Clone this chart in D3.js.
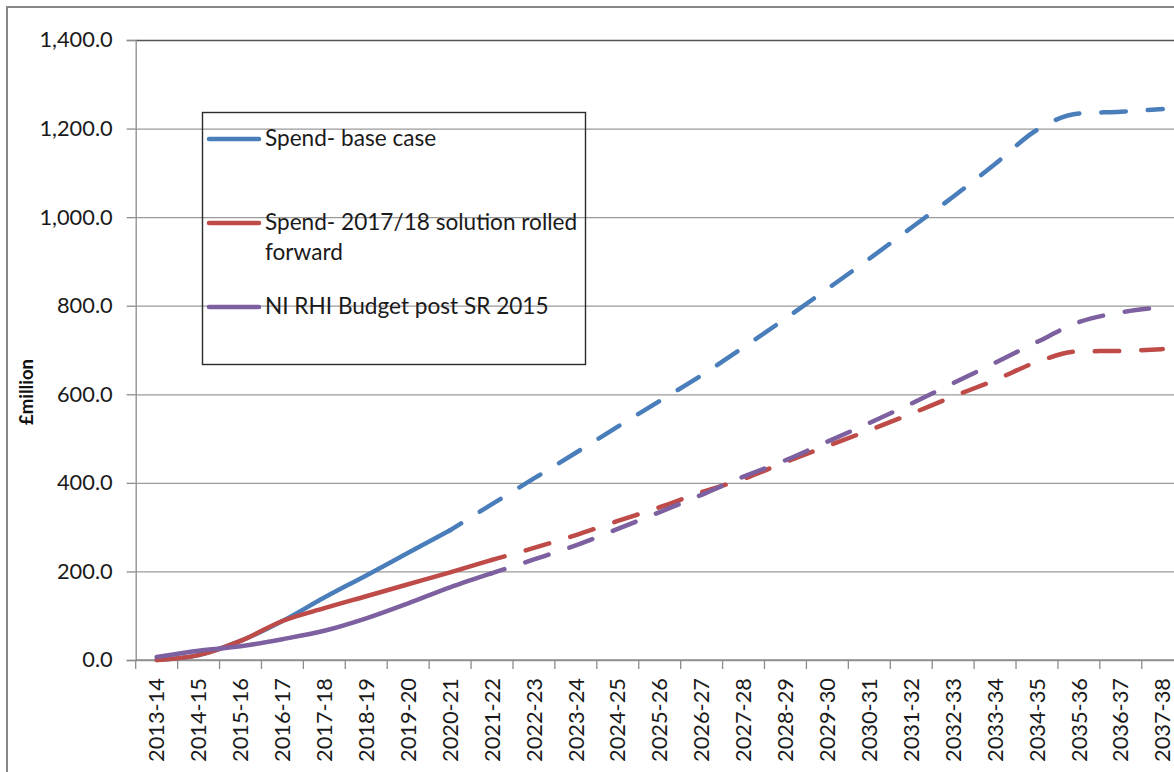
<!DOCTYPE html>
<html>
<head>
<meta charset="utf-8">
<script src="https://cdn.jsdelivr.net/npm/d3@7"></script>
<style>
  html, body { margin: 0; padding: 0; background: #fff; }
  svg { display: block; font-family: Lato, "Open Sans", sans-serif; }
</style>
</head>
<body>
<svg id="chart" width="1174" height="772"></svg>
<script>
// Financial years on the category axis
const categories = [
  "2013-14", "2014-15", "2015-16", "2016-17", "2017-18", "2018-19", "2019-20",
  "2020-21", "2021-22", "2022-23", "2023-24", "2024-25", "2025-26", "2026-27",
  "2027-28", "2028-29", "2029-30", "2030-31", "2031-32", "2032-33", "2033-34",
  "2034-35", "2035-36", "2036-37", "2037-38"
];

// Spend and budget, £ million
const spendBaseCase = [
  0, 11, 43, 88, 141, 191, 242, 293, 352, 410, 468, 527, 585, 643, 706,
  771, 838, 906, 976, 1046, 1120, 1197, 1234, 1238, 1244
];
const spendRolledForward = [
  0, 11, 43, 88, 117, 144, 171, 198, 226, 253, 282, 314, 345, 379, 409,
  447, 483, 519, 556, 595, 632, 673, 697, 698, 702
];
const budgetPostSR2015 = [
  7, 21, 31, 47, 66, 94, 128, 164, 196, 227, 259, 296, 334, 373, 414,
  451, 493, 535, 579, 625, 671, 718, 763, 785, 797
];

const seriesNames = [
  "Spend- base case",
  "Spend- 2017/18 solution rolled forward",
  "NI RHI Budget post SR 2015"
];
const legendLines = [
  ["Spend- base case"],
  ["Spend- 2017/18 solution rolled", "forward"],
  ["NI RHI Budget post SR 2015"]
];
// Index of the last firm year of each series; later years are drawn dashed
const solidUntil = [7, 8, 8];
const yTicks = [0, 200, 400, 600, 800, 1000, 1200, 1400];

const series = [
  { name: seriesNames[0], values: spendBaseCase, color: "#4A7EBB", solidUntil: solidUntil[0] },
  { name: seriesNames[1], values: spendRolledForward, color: "#BE4B48", solidUntil: solidUntil[1] },
  { name: seriesNames[2], values: budgetPostSR2015, color: "#7D60A0", solidUntil: solidUntil[2] }
];

const svg = d3.select("#chart");
const FONT = 21.8;
const LEGEND_FONT = 22.6;

// Chart area frame
svg.append("rect")
  .attr("x", 7).attr("y", 7)
  .attr("width", 1400).attr("height", 1000)
  .attr("fill", "none")
  .attr("stroke", "#878787")
  .attr("stroke-width", 2);

const plot = { left: 135.7, top: 40, bottom: 660, band: 41.92 };
plot.right = plot.left + plot.band * categories.length;

const x = d3.scaleBand()
  .domain(categories)
  .range([plot.left, plot.right])
  .paddingInner(0).paddingOuter(0);

const y = d3.scaleLinear()
  .domain([0, 1400])
  .range([plot.bottom, plot.top]);

// Horizontal gridlines
const grid = svg.append("g")
  .attr("transform", `translate(${plot.left},0)`)
  .call(d3.axisLeft(y).tickValues(yTicks).tickSize(-(plot.right - plot.left)).tickFormat(""));
grid.select(".domain").remove();
grid.selectAll(".tick line")
  .attr("stroke", (d) => d === 1400 ? "#555" : "#9a9a9a")
  .attr("stroke-width", 1.3);

// Y axis with labels
const yAxis = svg.append("g")
  .attr("transform", `translate(${plot.left},0)`)
  .call(d3.axisLeft(y).tickValues(yTicks).tickSize(9).tickPadding(14).tickFormat(d3.format(",.1f")));
yAxis.select(".domain").attr("stroke", "#8c8c8c").attr("stroke-width", 1.3);
yAxis.selectAll(".tick line").attr("stroke", "#8c8c8c").attr("stroke-width", 1.3);
yAxis.selectAll(".tick text")
  .attr("font-size", FONT)
  .attr("font-family", "Lato, sans-serif")
  .attr("fill", "#1a1a1a");

// X axis baseline
svg.append("line")
  .attr("x1", plot.left).attr("x2", plot.right)
  .attr("y1", y(0)).attr("y2", y(0))
  .attr("stroke", "#8c8c8c").attr("stroke-width", 1.3);

// Tick marks sit on the category boundaries
const boundaries = categories.map((c) => x(c)).concat([x(categories[categories.length - 1]) + x.bandwidth()]);
svg.append("g").selectAll("line")
  .data(boundaries)
  .join("line")
  .attr("x1", (d) => d).attr("x2", (d) => d)
  .attr("y1", y(0)).attr("y2", y(0) + 9)
  .attr("stroke", "#8c8c8c").attr("stroke-width", 1.3);

// Rotated category labels
svg.append("g").selectAll("text")
  .data(categories)
  .join("text")
  .attr("transform", (d) => `translate(${x(d) + x.bandwidth() / 2},${y(0) + 18}) rotate(-90)`)
  .attr("text-anchor", "end")
  .attr("dy", "0.35em")
  .attr("font-size", FONT)
  .attr("fill", "#1a1a1a")
  .text((d) => d);

// Y axis title
svg.append("text")
  .attr("transform", `translate(33,392) rotate(-90)`)
  .attr("text-anchor", "middle")
  .attr("font-size", 18.5)
  .attr("font-weight", "bold")
  .attr("fill", "#111")
  .text("£million");

// Series lines: solid for the firm years, dashed for projections
const line = d3.line()
  .x((d) => x(d.cat) + x.bandwidth() / 2)
  .y((d) => y(d.v))
  .curve(d3.curveMonotoneX);

const lines = svg.append("g");
series.forEach((s) => {
  const pts = s.values.map((v, i) => ({ cat: categories[i], v }));
  lines.append("path")
    .datum(pts.slice(0, s.solidUntil + 1))
    .attr("d", line)
    .attr("fill", "none")
    .attr("stroke", s.color)
    .attr("stroke-width", 4.5)
    .attr("stroke-linecap", "round")
    .attr("stroke-linejoin", "round");
  lines.append("path")
    .datum(pts.slice(s.solidUntil))
    .attr("d", line)
    .attr("fill", "none")
    .attr("stroke", s.color)
    .attr("stroke-width", 4.5)
    .attr("stroke-linecap", "round")
    .attr("stroke-linejoin", "round")
    .attr("stroke-dasharray", "24.5,22")
    .attr("stroke-dashoffset", 11.5);
});

// Legend
const legend = svg.append("g");
legend.append("rect")
  .attr("x", 202.5).attr("y", 112.5)
  .attr("width", 383).attr("height", 252)
  .attr("fill", "none")
  .attr("stroke", "#2b2b2b")
  .attr("stroke-width", 1.4);

const legendRows = [139, 223, 307];
series.forEach((s, i) => {
  const g = legend.append("g").attr("transform", `translate(0,${legendRows[i]})`);
  g.append("line")
    .attr("x1", 209).attr("x2", 259)
    .attr("y1", 0).attr("y2", 0)
    .attr("stroke", s.color)
    .attr("stroke-width", 4.5)
    .attr("stroke-linecap", "round");
  const t = g.append("text")
    .attr("x", 265)
    .attr("y", 0)
    .attr("font-size", LEGEND_FONT)
    .attr("fill", "#1a1a1a");
  legendLines[i].forEach((ln, j) => {
    t.append("tspan")
      .attr("x", 265)
      .attr("dy", j === 0 ? "0.33em" : 30)
      .text(ln);
  });
});
</script>
</body>
</html>
